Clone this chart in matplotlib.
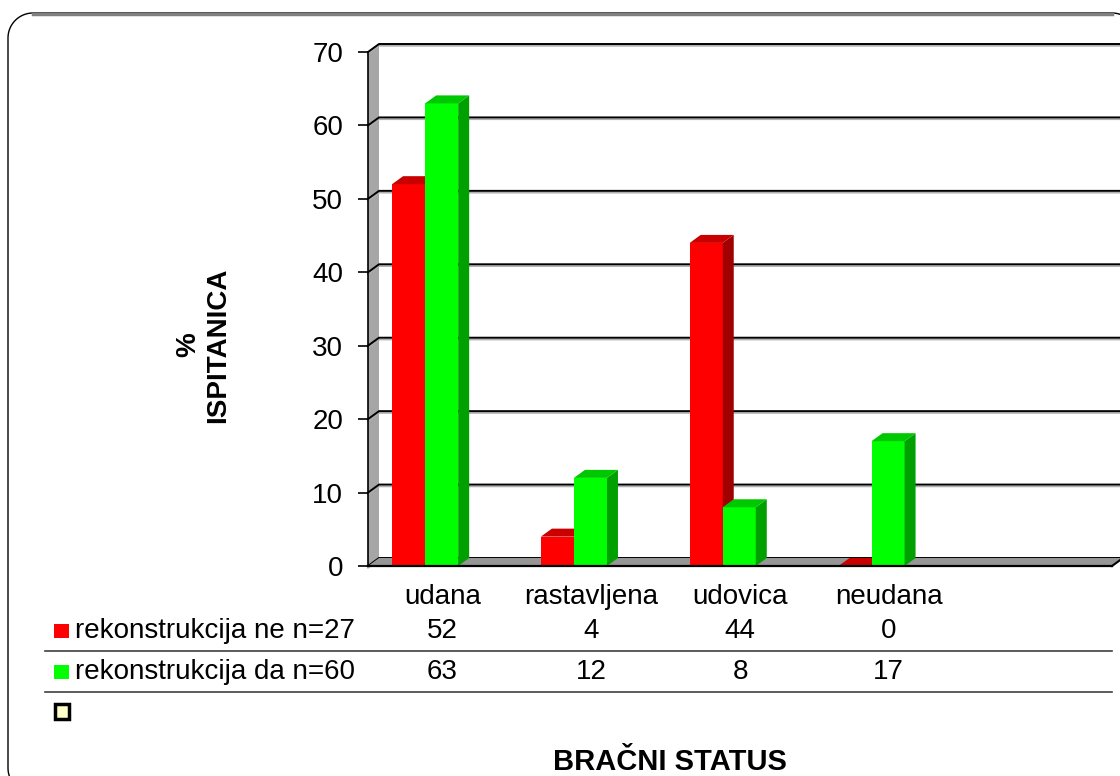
import matplotlib
matplotlib.use("Agg")
import numpy as np
import matplotlib.pyplot as plt
from matplotlib.patches import Polygon, Rectangle
from matplotlib.transforms import blended_transform_factory

plt.rcParams['font.family'] = ['Liberation Sans', 'DejaVu Sans']

# data
categories = ["udana", "rastavljena", "udovica", "neudana"]
series_names = ["rekonstrukcija ne n=27", "rekonstrukcija da n=60"]
rek_ne = [52, 4, 44, 0]
rek_da = [63, 12, 8, 17]
yticks = [0, 10, 20, 30, 40, 50, 60, 70]

face = ["#FF0000", "#00FF00"]
top = ["#C80000", "#00C800"]
side = ["#A00000", "#00A000"]

W, H = 1120, 776
fig = plt.figure(figsize=(W / 100, H / 100), dpi=100)

def fx(x):
    return x / W

def fy(y):
    return 1 - y / H

# pixel overlay for the rounded frame (left, top and corners only)
bg = fig.add_axes([0, 0, 1, 1])
bg.set_xlim(0, W)
bg.set_ylim(H, 0)
bg.axis("off")
r = 25
t = np.linspace(0, np.pi / 2, 30)
# bottom-left arc -> left edge -> top-left arc -> top edge -> top-right arc
bl_x = 33 - r * np.cos(t)
bl_y = 768 + r * np.sin(t)
tl_x = 33 - r * np.cos(t)
tl_y = 38 - r * np.sin(t)
tr_x = 1112 + r * np.sin(t)
tr_y = 38 - r * np.cos(t)
px = np.concatenate([bl_x[::-1], tl_x, tr_x])
py = np.concatenate([bl_y[::-1], tl_y, tr_y])
bg.plot(px, py, color="black", lw=1, clip_on=False)
bg.plot([33, 1112], [13.5, 13.5], color="#808080", lw=2.5)

nslots = 5
ax = fig.add_axes([fx(368), fy(566), fx(744), 514 / H])
ax.set_xlim(0, nslots)
ax.set_ylim(0, 70)
dx = 11 / (744 / nslots)
dy = 8 / (514 / 70)

# left wall and back grid
ax.add_patch(Polygon([(0, 0), (dx, dy), (dx, 70 + dy), (0, 70)], closed=True,
                     fc="#A6A6A6", ec="none", zorder=1, clip_on=False))
for v in yticks:
    ax.plot([0, dx, nslots + dx], [v - 0.25, v + dy - 0.25, v + dy - 0.25],
            color="#B0B0B0", lw=1.2, zorder=1.5, clip_on=False)
    ax.plot([0, dx, nslots + dx], [v, v + dy, v + dy], color="black", lw=1.4,
            zorder=2, clip_on=False)

# floor
ax.add_patch(Polygon([(0, 0), (nslots, 0), (nslots + dx, dy), (dx, dy)], closed=True,
                     fc="#969696", ec="none", zorder=2.5, clip_on=False))
ax.plot([nslots, nslots + dx], [0, dy], color="black", lw=1.5, zorder=2.6, clip_on=False)

# bars
bw = 0.222
for j, vals in enumerate([rek_ne, rek_da]):
    for i, v in enumerate(vals):
        x = i + 0.162 + j * bw
        z = 3 + j
        ax.add_patch(Rectangle((x, 0), bw, v, fc=face[j], ec="none", zorder=z))
        ax.add_patch(Polygon([(x + bw, 0), (x + bw + dx, dy), (x + bw + dx, v + dy),
                              (x + bw, v)], closed=True, fc=side[j], ec="none",
                             zorder=z, clip_on=False))
        ax.add_patch(Polygon([(x, v), (x + bw, v), (x + bw + dx, v + dy), (x + dx, v + dy)],
                             closed=True, fc=top[j], ec="none", zorder=z, clip_on=False))

for s in ["top", "right"]:
    ax.spines[s].set_visible(False)
ax.spines["left"].set_linewidth(1.2)
ax.spines["bottom"].set_linewidth(1.6)
ax.spines["bottom"].set_zorder(6)
ax.set_yticks(yticks)
ax.tick_params(axis="y", direction="out", length=7, width=1.2, labelsize=20, pad=11)
ax.set_xticks([])

# y label
fig.text(fx(203), fy(345), "%\nISPITANICA", rotation=90, ha="center", va="center",
         fontsize=20, fontweight="bold", linespacing=1.2)

# data table
tr = blended_transform_factory(ax.transData, fig.transFigure)
for i, c in enumerate(categories):
    ax.text(i + 0.5, fy(597), c, transform=tr, ha="center", va="center", fontsize=20)
row_y = [631, 672]
for j, vals in enumerate([rek_ne, rek_da]):
    fig.patches.append(Rectangle((fx(54), fy(row_y[j] + 7)), fx(15), 14 / H,
                                 transform=fig.transFigure, fc=face[j], ec="none"))
    fig.text(fx(75), fy(row_y[j]), series_names[j], ha="left", va="center", fontsize=20)
    for i, v in enumerate(vals):
        ax.text(i + 0.5, fy(row_y[j]), str(v), transform=tr, ha="center", va="center",
                fontsize=20)
for ly in [651, 692]:
    fig.add_artist(plt.Line2D([fx(45), fx(1112)], [fy(ly), fy(ly)], color="#404040",
                              lw=1.2, transform=fig.transFigure))

fig.patches.append(Rectangle((fx(55), fy(719)), fx(14), 15 / H, transform=fig.transFigure,
                             fc="#FFFFCC", ec="black", lw=2.5))

fig.text(fx(670), fy(762), "BRAČNI STATUS", ha="center", va="center", fontsize=21,
         fontweight="bold")

fig.savefig("out.png", dpi=100)
